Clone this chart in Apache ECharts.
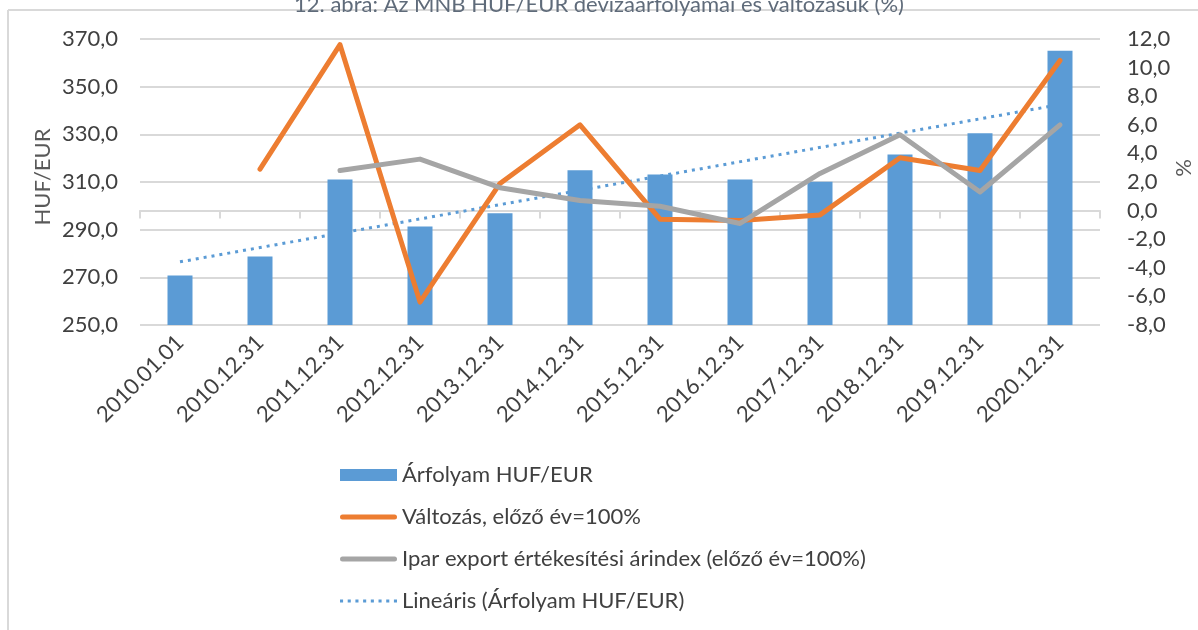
<!DOCTYPE html>
<html>
<head>
<meta charset="utf-8">
<script src="https://cdn.jsdelivr.net/npm/echarts@6/dist/echarts.min.js"></script>
<style>
html,body{margin:0;padding:0;background:#fff;}
#chart{width:1198px;height:630px;}
</style>
</head>
<body>
<div id="chart"></div>
<script>
const categories = ['2010.01.01','2010.12.31','2011.12.31','2012.12.31','2013.12.31','2014.12.31','2015.12.31','2016.12.31','2017.12.31','2018.12.31','2019.12.31','2020.12.31'];
const rateHufEur = [270.8, 278.7, 311.1, 291.3, 296.9, 314.9, 313.1, 311.0, 310.1, 321.5, 330.5, 365.1];
const changePct = [null, 2.9, 11.6, -6.4, 1.9, 6.0, -0.6, -0.7, -0.3, 3.7, 2.8, 10.5];
const exportPriceIdx = [null, null, 2.8, 3.6, 1.6, 0.7, 0.3, -0.9, 2.6, 5.3, 1.3, 6.0];
const trendRate = [276.5, null, null, null, null, null, null, null, null, null, null, 342.5];
const seriesNames = ['Árfolyam HUF/EUR', 'Változás, előző év=100%', 'Ipar export értékesítési árindex (előző év=100%)', 'Lineáris (Árfolyam HUF/EUR)'];
const titleText = '12. ábra: Az MNB HUF/EUR devizaárfolyamai és változásuk (%)';

const FONT = 'Lato';
const fmt = v => v.toFixed(1).replace('.', ',');

// legend icons
const thickLineIcon = 'path://M2.5,0 H54.5 A2.5,2.5 0 0 1 54.5,5 H2.5 A2.5,2.5 0 0 1 2.5,0 Z';
let dots = '';
for (let i = 0; i < 8; i++) { const x = i * 7.5; dots += 'M' + x + ',0 h3 v3 h-3 Z '; }
const dottedIcon = 'path://' + dots.trim();

const chart = echarts.init(document.getElementById('chart'), null, {renderer: 'canvas'});
chart.setOption({
  animation: false,
  backgroundColor: '#fff',
  textStyle: {fontFamily: FONT},
  title: {
    text: titleText,
    left: 'center',
    top: -11,
    textStyle: {fontFamily: FONT, fontSize: 22, fontWeight: 'normal', color: '#5f6b7a'}
  },
  graphic: [
    {type: 'line', shape: {x1: 8, y1: 10, x2: 1198, y2: 10}, style: {stroke: '#d9d9d9', lineWidth: 2}, silent: true},
    {type: 'line', shape: {x1: 8, y1: 10, x2: 8, y2: 630}, style: {stroke: '#d9d9d9', lineWidth: 2}, silent: true}
  ],
  grid: {left: 140, right: 98, top: 39, bottom: 305, containLabel: false, outerBoundsMode: 'none'},
  legend: {
    orient: 'vertical',
    left: 335,
    top: 459,
    itemWidth: 57,
    itemHeight: 12,
    itemGap: 20,
    textStyle: {fontFamily: FONT, fontSize: 22, color: '#404040', padding: [0, 0, 0, 0]},
    data: [
      {name: seriesNames[0], icon: 'rect'},
      {name: seriesNames[1], icon: thickLineIcon},
      {name: seriesNames[2], icon: thickLineIcon},
      {name: seriesNames[3], icon: dottedIcon}
    ]
  },
  xAxis: {
    type: 'category',
    data: categories,
    axisLine: {lineStyle: {color: '#d9d9d9', width: 2}},
    axisTick: {show: true, length: 8, lineStyle: {color: '#d9d9d9', width: 2}},
    axisLabel: {rotate: 45, margin: 14, fontFamily: FONT, fontSize: 22, color: '#404040', interval: 0}
  },
  yAxis: [
    {
      type: 'value', min: 250, max: 370, interval: 20, position: 'left',
      name: 'HUF/EUR', nameLocation: 'middle', nameGap: 86, nameRotate: 90, nameMoveOverlap: false,
      nameTextStyle: {fontFamily: FONT, fontSize: 22, color: '#595959', padding: [0, 0, 0, 10]},
      axisLine: {show: false}, axisTick: {show: false},
      axisLabel: {formatter: fmt, fontFamily: FONT, fontSize: 22, color: '#404040', margin: 22},
      splitLine: {lineStyle: {color: '#d9d9d9', width: 2}}
    },
    {
      type: 'value', min: -8, max: 12, interval: 2, position: 'right',
      name: '%', nameLocation: 'middle', nameGap: 73, nameRotate: 90, nameMoveOverlap: false,
      nameTextStyle: {fontFamily: FONT, fontSize: 22, color: '#595959', padding: [0, 0, 0, 28]},
      axisLine: {show: false}, axisTick: {show: false},
      axisLabel: {formatter: fmt, fontFamily: FONT, fontSize: 22, color: '#404040', margin: 27},
      splitLine: {show: false}
    }
  ],
  series: [
    {
      name: seriesNames[0], type: 'bar', yAxisIndex: 0, data: rateHufEur,
      barWidth: 25, itemStyle: {color: '#5b9bd5'}, z: 3
    },
    {
      name: seriesNames[1], type: 'line', yAxisIndex: 1, data: changePct,
      symbol: 'none', lineStyle: {color: '#ed7d31', width: 5, cap: 'round', join: 'round'},
      itemStyle: {color: '#ed7d31'}, z: 4
    },
    {
      name: seriesNames[2], type: 'line', yAxisIndex: 1, data: exportPriceIdx,
      symbol: 'none', lineStyle: {color: '#a5a5a5', width: 5, cap: 'round', join: 'round'},
      itemStyle: {color: '#a5a5a5'}, z: 5
    },
    {
      name: seriesNames[3], type: 'line', yAxisIndex: 0, data: trendRate, connectNulls: true,
      symbol: 'none', lineStyle: {color: '#5b9bd5', width: 3, type: [3, 5]},
      itemStyle: {color: '#5b9bd5'}, z: 2
    }
  ]
});
</script>
</body>
</html>
